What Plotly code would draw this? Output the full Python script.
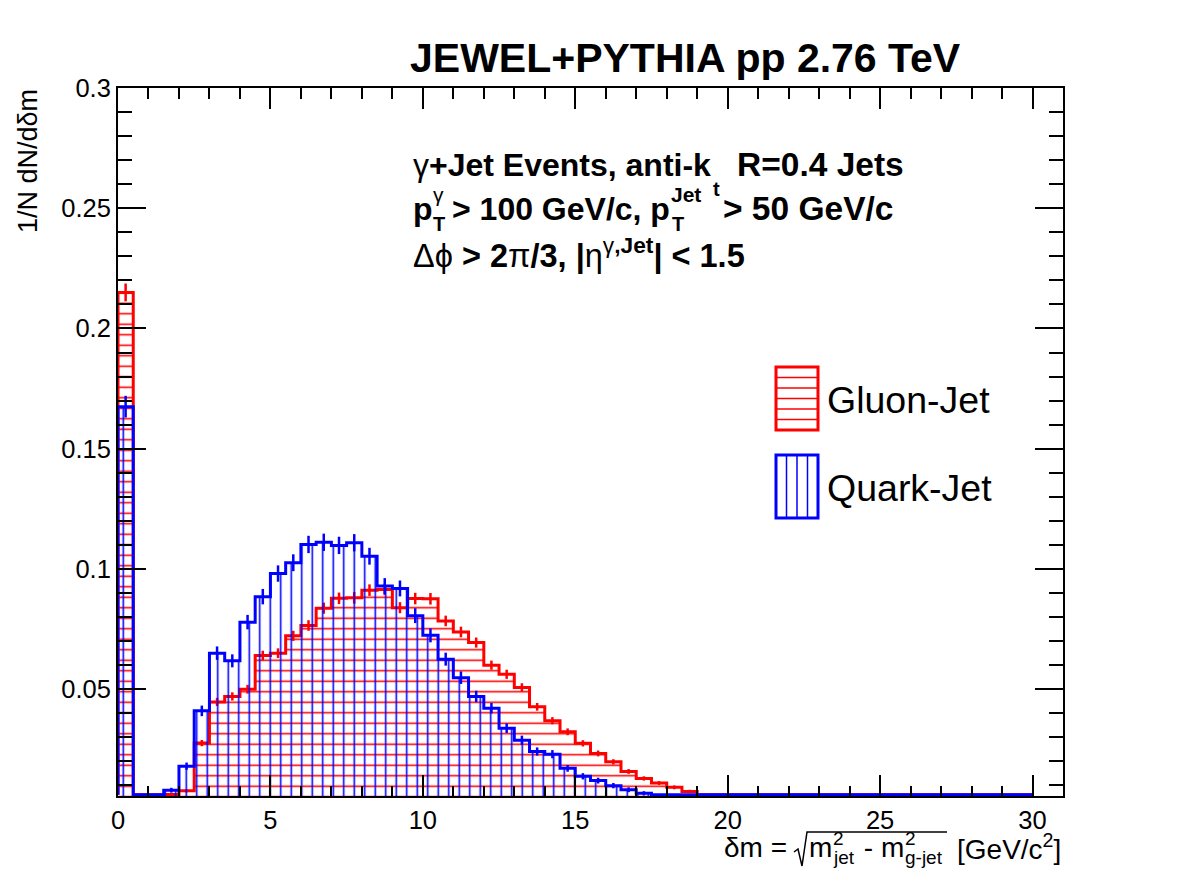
import numpy as np
import plotly.graph_objects as go

# ---------------- data ----------------
bin_width = 0.5
bin_edges = np.arange(0.0, 30.0 + bin_width / 2, bin_width)  # 0 .. 30, 60 bins

gluon_jet = [
    0.2150, 0.0, 0.0, 0.0062, 0.0078, 0.0276, 0.0447, 0.0470, 0.0500, 0.0640,
    0.0650, 0.0722, 0.0765, 0.0837, 0.0878, 0.0880, 0.0912, 0.0915, 0.0839, 0.0877,
    0.0876, 0.0784, 0.0738, 0.0694, 0.0600, 0.0562, 0.0507, 0.0427, 0.0369, 0.0323,
    0.0275, 0.0233, 0.0198, 0.0158, 0.0129, 0.0110, 0.0092, 0.0075, 0.0, 0.0,
    0.0, 0.0, 0.0, 0.0, 0.0, 0.0, 0.0, 0.0, 0.0, 0.0,
    0.0, 0.0, 0.0, 0.0, 0.0, 0.0, 0.0, 0.0, 0.0, 0.0,
]
gluon_err = [
    0.0037, 0.0, 0.0, 0.0006, 0.0007, 0.0013, 0.0017, 0.0017, 0.0018, 0.0020,
    0.0020, 0.0021, 0.0022, 0.0023, 0.0024, 0.0024, 0.0024, 0.0024, 0.0023, 0.0024,
    0.0024, 0.0022, 0.0022, 0.0021, 0.0019, 0.0019, 0.0018, 0.0016, 0.0015, 0.0014,
    0.0013, 0.0012, 0.0011, 0.0010, 0.0009, 0.0008, 0.0008, 0.0007, 0.0, 0.0,
    0.0, 0.0, 0.0, 0.0, 0.0, 0.0, 0.0, 0.0, 0.0, 0.0,
    0.0, 0.0, 0.0, 0.0, 0.0, 0.0, 0.0, 0.0, 0.0, 0.0,
]
quark_jet = [
    0.1675, 0.0, 0.0, 0.0080, 0.0180, 0.0410, 0.0650, 0.0618, 0.0779, 0.0885,
    0.0981, 0.1026, 0.1102, 0.1111, 0.1098, 0.1109, 0.1053, 0.0929, 0.0919, 0.0806,
    0.0724, 0.0625, 0.0548, 0.0470, 0.0421, 0.0338, 0.0288, 0.0241, 0.0230, 0.0171,
    0.0138, 0.0120, 0.0099, 0.0082, 0.0067, 0.0, 0.0, 0.0, 0.0, 0.0,
    0.0, 0.0, 0.0, 0.0, 0.0, 0.0, 0.0, 0.0, 0.0, 0.0,
    0.0, 0.0, 0.0, 0.0, 0.0, 0.0, 0.0, 0.0, 0.0, 0.0,
]
quark_err = [
    0.0045, 0.0, 0.0, 0.0010, 0.0015, 0.0022, 0.0028, 0.0027, 0.0030, 0.0032,
    0.0034, 0.0035, 0.0036, 0.0036, 0.0036, 0.0036, 0.0035, 0.0033, 0.0033, 0.0031,
    0.0029, 0.0027, 0.0026, 0.0024, 0.0022, 0.0020, 0.0019, 0.0017, 0.0017, 0.0014,
    0.0013, 0.0012, 0.0011, 0.0010, 0.0009, 0.0, 0.0, 0.0, 0.0, 0.0,
    0.0, 0.0, 0.0, 0.0, 0.0, 0.0, 0.0, 0.0, 0.0, 0.0,
    0.0, 0.0, 0.0, 0.0, 0.0, 0.0, 0.0, 0.0, 0.0, 0.0,
]

x_tick_vals = [0, 5, 10, 15, 20, 25, 30]
x_tick_text = ["0", "5", "10", "15", "20", "25", "30"]
y_tick_vals = [0.05, 0.1, 0.15, 0.2, 0.25, 0.3]
y_tick_text = ["0.05", "0.1", "0.15", "0.2", "0.25", "0.3"]

X_RANGE = [0.0, 31.0]
Y_RANGE = [0.0056, 0.3]

# ---------------- layout geometry (pixels) ----------------
FIG_W, FIG_H = 1182, 886
L, R, T, B = 118, 119, 88, 90
PW = FIG_W - L - R
PH = FIG_H - T - B
FONT = "Liberation Sans, Arial, Helvetica, sans-serif"


def px_x(p):
    return (p - L) / PW


def px_y(p):
    return (FIG_H - B - p) / PH


edges = np.asarray(bin_edges)
centers = 0.5 * (edges[:-1] + edges[1:])
floor = Y_RANGE[0] + 0.0005


def step_xy(vals):
    v = np.maximum(np.asarray(vals, dtype=float), floor)
    xs = np.concatenate([[edges[0]], edges])
    ys = np.concatenate([[floor], v, [v[-1]]])
    return xs, ys


fig = go.Figure()

for vals, errs, color, shape in [
    (gluon_jet, gluon_err, "#ff0000", "-"),
    (quark_jet, quark_err, "#0000ff", "|"),
]:
    xs, ys = step_xy(vals)
    fig.add_trace(go.Scatter(
        x=xs, y=ys, mode="lines",
        line=dict(color=color, width=3, shape="hv"),
        fill="tozeroy", fillcolor="rgba(0,0,0,0)",
        fillpattern=dict(shape=shape, fgcolor=color, bgcolor="rgba(0,0,0,0)",
                         size=10.5, solidity=0.15, fillmode="replace"),
        hoverinfo="skip", showlegend=False,
    ))
    v = np.asarray(vals)
    e = np.asarray(errs)
    m = v > 0
    fig.add_trace(go.Scatter(
        x=centers[m], y=v[m], mode="markers",
        marker=dict(size=1, color=color),
        error_y=dict(type="data", array=e[m], visible=True, color=color,
                     thickness=2.5, width=0),
        showlegend=False,
    ))

axis_common = dict(
    showline=True, linecolor="black", linewidth=2, mirror="ticks",
    ticks="inside", tickcolor="black", tickwidth=1.5,
    showgrid=False, zeroline=False,
    tickfont=dict(family=FONT, size=25.5, color="black"),
)
fig.update_xaxes(range=X_RANGE, tickvals=x_tick_vals, ticktext=x_tick_text, ticklen=21,
                 minor=dict(dtick=1, tick0=0, ticks="inside", ticklen=10.5,
                            tickcolor="black", tickwidth=1.5, showgrid=False),
                 **axis_common)
fig.update_yaxes(range=Y_RANGE, tickvals=y_tick_vals, ticktext=y_tick_text, ticklen=28,
                 minor=dict(dtick=0.01, tick0=0, ticks="inside", ticklen=14,
                            tickcolor="black", tickwidth=1.5, showgrid=False),
                 **axis_common)

annotations = []


def note(text, xpx, ypx, size, xanchor="left", yanchor="middle", angle=0):
    annotations.append(dict(
        text=text, x=px_x(xpx), y=px_y(ypx), xref="paper", yref="paper",
        xanchor=xanchor, yanchor=yanchor, textangle=angle, showarrow=False,
        borderpad=0,
        font=dict(family=FONT, size=size, color="black"),
    ))


nb = '<span style="font-weight:normal">%s</span>'

# title
note("<b>JEWEL+PYTHIA pp 2.76 TeV</b>", 685, 58, 41, xanchor="center")

# text block, line 1
note("<b>" + nb % "γ" + "+Jet Events, anti-k</b>", 412, 165, 32)
note("<b>R=0.4 Jets</b>", 905, 165, 33.5, xanchor="right")
# line 2 (stacked sub/superscripts as in the reference)
note("<b>p</b>", 412, 209, 32)
note(nb % "γ", 432, 195, 21)
note("<b>T</b>", 432, 224, 20)
note("<b>&gt; 100 GeV/c, p</b>", 451, 209, 32)
note("<b>Jet</b>", 670, 195, 21)
note("<b>T</b>", 671, 224, 20)
note("<b>t</b>", 712, 189, 20)
note("<b>&gt; 50 GeV/c</b>", 894, 209, 33.5, xanchor="right")
# line 3
note(nb % "Δϕ" + "<b> &gt; 2</b>" + nb % "π" + "<b>/3, |</b>" + nb % "η"
     + "<b><sup>" + nb % "γ" + ",Jet</sup>| &lt; 1.5</b>", 412, 253, 32.5)

# legend labels
note("Gluon-Jet", 826, 400, 37.5)
note("Quark-Jet", 826, 488, 37.5)

# y axis title
note("1/N dN/dδm", 28, 88, 27, xanchor="center", yanchor="top", angle=-90)

# x axis title, pieces (square root drawn as a path below)
XT = 28
XS = 19
note("δm = ", 723, 847, XT)
note("m", 808, 847, XT)
note("2", 832, 838, XS)
note("jet", 832, 858, XS)
note("\u00a0-\u00a0", 855, 847, XT)
note("m", 880, 847, XT)
note("2", 904, 838, XS)
note("g-jet", 904, 858, XS)
note("[GeV/c<sup>2</sup>]", 1062, 847, XT, xanchor="right")

shapes = []
# legend boxes
for (y0, y1, color, horiz) in [(367, 430, "#ff0000", True), (455, 518, "#0000ff", False)]:
    x0, x1 = 776, 818
    if horiz:
        for k in range(1, 6):
            yy = y0 + k * 10.5
            shapes.append(dict(type="line", xref="paper", yref="paper",
                               x0=px_x(x0), x1=px_x(x1), y0=px_y(yy), y1=px_y(yy),
                               line=dict(color=color, width=1.5)))
    else:
        for k in range(1, 4):
            xx = x0 + k * 10.5
            shapes.append(dict(type="line", xref="paper", yref="paper",
                               x0=px_x(xx), x1=px_x(xx), y0=px_y(y0), y1=px_y(y1),
                               line=dict(color=color, width=1.5)))
    shapes.append(dict(type="rect", xref="paper", yref="paper",
                       x0=px_x(x0), x1=px_x(x1), y0=px_y(y0), y1=px_y(y1),
                       line=dict(color=color, width=3), fillcolor="rgba(0,0,0,0)"))

# radical sign with overline for the x title
rad_pts = [(794, 852), (798, 849), (802, 866), (807, 832), (947, 832)]
path = "M " + " L ".join("%.5f,%.5f" % (px_x(a), px_y(b)) for a, b in rad_pts)
shapes.append(dict(type="path", xref="paper", yref="paper", path=path,
                   line=dict(color="black", width=1.5)))

fig.update_layout(
    width=FIG_W, height=FIG_H,
    margin=dict(l=L, r=R, t=T, b=B),
    paper_bgcolor="white", plot_bgcolor="white",
    showlegend=False,
    font=dict(family=FONT, size=23, color="black"),
    annotations=annotations, shapes=shapes,
)

fig.write_html("out.html")
